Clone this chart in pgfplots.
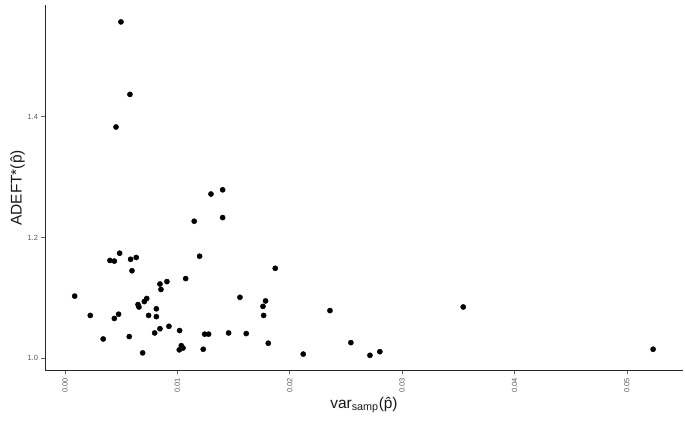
\documentclass[border=0pt]{standalone}
\usepackage{fontspec}
\setmainfont{Liberation Sans}
\usepackage{pgfplots}
\pgfplotsset{compat=1.18}

\begin{document}
\begin{tikzpicture}
\path[use as bounding box] (0,0) rectangle (685bp,424bp);
\begin{axis}[
    at={(45bp,53bp)}, anchor=south west,
    scale only axis, width=638bp, height=366bp,
    xmin=-0.00178, xmax=0.055,
    ymin=0.979, ymax=1.585,
    scaled x ticks=false, scaled y ticks=false,
    axis x line*=bottom, axis y line*=left,
    axis line style={-, black!85, line width=1bp},
    tick align=outside, major tick length=3.5bp,
    tick style={black!60, line width=0.6bp},
    xtick={0,0.01,0.02,0.03,0.04,0.05},
    xticklabels={0.00,0.01,0.02,0.03,0.04,0.05},
    ytick={1.0,1.2,1.4},
    yticklabels={1.0,1.2,1.4},
    ticklabel style={font=\fontsize{7.5}{8}\selectfont, text=black!65},
    xticklabel style={rotate=90, anchor=east},
    xlabel={var\textsubscript{samp}(\^{p})},
    ylabel={ADEFT*(\^{p})},
    label style={font=\fontsize{15.5}{17}\selectfont, text=black!90},
    xlabel style={yshift=2bp},
    ylabel style={yshift=-4bp},
    clip=false,
]
\addplot[only marks, mark=*, mark size=2.6bp, black] coordinates {
(0.00086,1.103) (0.00225,1.071) (0.0034,1.032) (0.0040,1.162) (0.00439,1.161)
(0.00486,1.174) (0.00439,1.066) (0.00477,1.073) (0.00572,1.036) (0.00584,1.164)
(0.00634,1.167) (0.00596,1.145) (0.00691,1.009) (0.0065,1.089) (0.00658,1.085)
(0.00706,1.094) (0.00727,1.099) (0.00744,1.071) (0.00798,1.042) (0.00813,1.082)
(0.00813,1.069) (0.00845,1.049) (0.00845,1.123) (0.00854,1.114) (0.00907,1.127)
(0.00925,1.053) (0.0102,1.046) (0.01017,1.014) (0.01035,1.021) (0.0105,1.017)
(0.01074,1.132) (0.0115,1.227) (0.01198,1.169) (0.0123,1.015) (0.01243,1.040)
(0.01278,1.040) (0.01299,1.272) (0.01403,1.279) (0.01403,1.233) (0.01456,1.042)
(0.01557,1.101) (0.01613,1.041) (0.01762,1.086) (0.01785,1.095) (0.01768,1.071)
(0.01809,1.025) (0.01871,1.149) (0.0212,1.007) (0.02358,1.079) (0.02544,1.026)
(0.02714,1.005) (0.02802,1.011) (0.03544,1.085) (0.05234,1.015)
(0.00498,1.557) (0.00578,1.437) (0.00454,1.383)
};
\end{axis}
\end{tikzpicture}
\end{document}
